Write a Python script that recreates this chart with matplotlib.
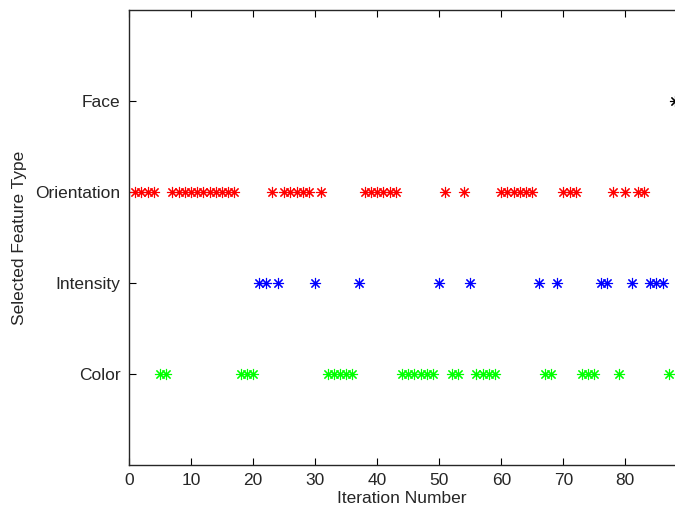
import matplotlib.pyplot as plt

# Selected feature type at each iteration (1 = Color, 2 = Intensity, 3 = Orientation, 4 = Face)
categories = ['Color', 'Intensity', 'Orientation', 'Face']
colors = ['#00ff00', '#0000ff', '#ff0000', '#000000']

color_iters = [5, 6, 18, 19, 20, 32, 33, 34, 35, 36, 44, 45, 46, 47, 48, 49,
               52, 53, 56, 57, 58, 59, 67, 68, 73, 74, 75, 79, 87]
intensity_iters = [21, 22, 24, 30, 37, 50, 55, 66, 69, 76, 77, 81, 84, 85, 86]
orientation_iters = [1, 2, 3, 4, 7, 8, 9, 10, 11, 12, 13, 14, 15, 16, 17, 23,
                     25, 26, 27, 28, 29, 31, 38, 39, 40, 41, 42, 43, 51, 54,
                     60, 61, 62, 63, 64, 65, 70, 71, 72, 78, 80, 82, 83]
face_iters = [88]

series = [color_iters, intensity_iters, orientation_iters, face_iters]

plt.rcParams['font.family'] = ['Liberation Sans', 'DejaVu Sans']

fig = plt.figure(figsize=(6.75, 5.08), dpi=100)
ax = fig.add_axes([129 / 675, 43 / 508, 546 / 675, 455 / 508])

for k, iters in enumerate(series):
    ax.plot(iters, [k + 1] * len(iters), linestyle='none', marker=(8, 2, 0),
            markersize=8, markeredgewidth=0.8, color=colors[k])

ax.set_xlim(0, 88)
ax.set_ylim(0, 5)
ax.set_xticks(range(0, 90, 10))
ax.set_yticks([1, 2, 3, 4])
ax.set_yticklabels(categories)
ax.tick_params(direction='in', top=True, length=5, width=0.8,
               labelsize=12.5, labelcolor='#262626', pad=6)
ax.spines['right'].set_visible(False)
for s in ['left', 'top', 'bottom']:
    ax.spines[s].set_linewidth(1.0)
    ax.spines[s].set_color('#262626')

ax.set_xlabel('Iteration Number', fontsize=12.5, color='#262626', labelpad=2)
ax.set_ylabel('Selected Feature Type', fontsize=12.5, color='#262626', labelpad=6)

fig.savefig('out.png', dpi=100)
